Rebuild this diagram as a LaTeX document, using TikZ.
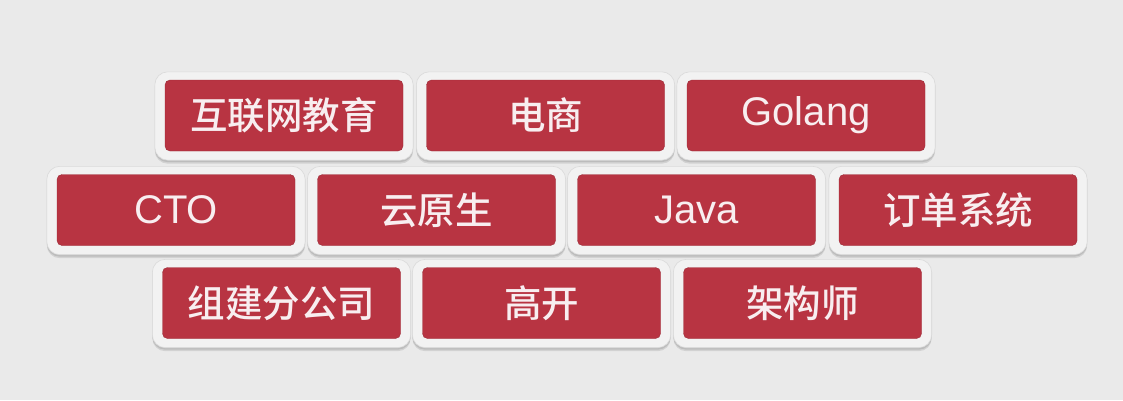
\documentclass[tikz,border=0pt]{standalone}
\usepackage{fontspec}
\setmainfont{Liberation Sans}
\newfontfamily\cjk[UprightFont={* Medium}]{Noto Sans CJK SC}
\usetikzlibrary{backgrounds,calc}
\definecolor{bg}{RGB}{234,234,234}
\definecolor{tilered}{RGB}{184,52,66}
\definecolor{frame}{RGB}{242,242,242}
\definecolor{framedge}{RGB}{218,218,218}
\definecolor{txt}{RGB}{248,238,240}
\tikzset{
  tile/.style={fill=tilered, draw=tilered!85!black, line width=0.4pt, rounded corners=5pt,
    minimum width=238pt, minimum height=71pt, inner sep=0pt, text=txt},
  cn/.style={font=\cjk\fontsize{37.5}{42}\selectfont},
  en/.style={font=\fontsize{40}{44}\selectfont},
  frm/.style={fill=frame, draw=framedge, line width=0.6pt, rounded corners=13pt},
  shd/.style={fill=black, opacity=0.10, rounded corners=13pt},
}
\newcommand{\tile}[5]{%
  \node[tile,#5] (#1) at (#2pt,#3pt) {#4};
  \begin{scope}[on background layer]
    \path[shd] ($(#1.south west)+(-10pt,-12.5pt)$) rectangle ($(#1.north east)+(10pt,6pt)$);
    \path[shd] ($(#1.south west)+(-10pt,-11pt)$) rectangle ($(#1.north east)+(10pt,7pt)$);
    \path[frm] ($(#1.south west)+(-10pt,-9pt)$) rectangle ($(#1.north east)+(10pt,8pt)$);
  \end{scope}}
\begin{document}
\begin{tikzpicture}[x=1pt,y=1pt]
\begin{scope}[on background layer]
\fill[bg] (0,0) rectangle (1123,400);
\end{scope}
\useasboundingbox (0,0) rectangle (1123,400);
% row 1
\tile{a1}{284}{284.5}{互联网教育}{cn}
\tile{a2}{545.5}{284.5}{电商}{cn}
\tile{a3}{806}{284.5}{Golang}{en}
% row 2
\tile{b1}{176}{190}{CTO}{en}
\tile{b2}{436.5}{190}{云原生}{cn}
\tile{b3}{696.5}{190}{Java}{en}
\tile{b4}{958}{190}{订单系统}{cn}
% row 3
\tile{c1}{281.5}{97}{组建分公司}{cn}
\tile{c2}{541.5}{97}{高开}{cn}
\tile{c3}{802.5}{97}{架构师}{cn}
\end{tikzpicture}
\end{document}
